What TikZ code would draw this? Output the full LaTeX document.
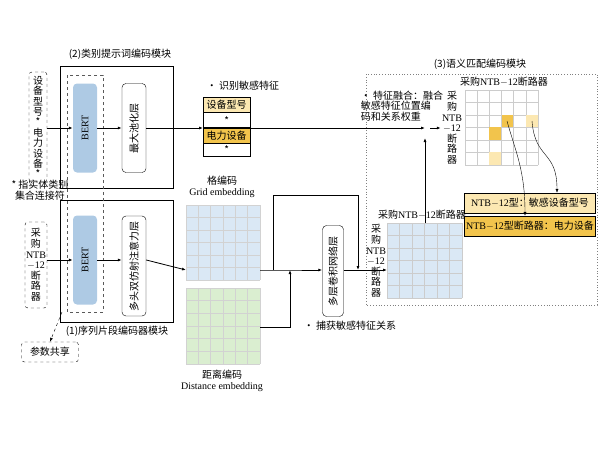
\documentclass[tikz,border=0pt]{standalone}
\usepackage{fontspec}
\setmainfont{Noto Sans CJK SC}
\newfontfamily\lat{Liberation Serif}
\usetikzlibrary{positioning,arrows.meta}
\definecolor{bertblue}{RGB}{174,202,228}
\definecolor{gridblue}{RGB}{218,232,245}
\definecolor{gridgreen}{RGB}{218,238,208}
\definecolor{lightyel}{RGB}{252,232,178}
\definecolor{darkyel}{RGB}{242,196,76}
\tikzset{
  txt/.style={font=\fontsize{10}{10.6}\selectfont, inner sep=1pt, align=center},
  layer/.style={draw, rounded corners=4pt, minimum width=24pt, txt},
  bert/.style={fill=bertblue, rounded corners=4pt, minimum width=24pt, minimum height=89pt, txt},
  dashbox/.style={draw, dashed, rounded corners=3pt, txt},
  cell/.style={draw, minimum width=47pt, minimum height=15pt, txt, anchor=north west},
  arr/.style={-{Latex[length=4pt]}, thick}
}
\newcommand{\gridcells}[6]{% x0 y0 x1 y1 fill line
  \fill[#5] (#1,#2) rectangle (#3,#4);
  \foreach \i in {0,...,6} {
    \draw[#6] ({#1+\i*(#3-#1)/6},#2) -- ({#1+\i*(#3-#1)/6},#4);
    \draw[#6] (#1,{#2+\i*(#4-#2)/6}) -- (#3,{#2+\i*(#4-#2)/6});
  }
}
\begin{document}
\begin{tikzpicture}[x=1pt,y=-1pt, txt]
\useasboundingbox (0,0) rectangle (600,450);
% modules (1) and (2)
\node (m2t) at (120,54) {(2)类别提示词编码模块};
\draw (60,66) rectangle (173,188);
\draw (60,200) rectangle (173,322);
\node (m1t) at (117,331) {(1)序列片段编码器模块};
\draw[dashed, gray!70!black] (67,75) rectangle (103,312);
\node (bert1)[bert] at (85,128) {\rotatebox{90}{\lat BERT}};
\node (bert2)[bert] at (85,260) {\rotatebox{90}{\lat BERT}};
\node (pool)[layer, minimum height=89pt] at (134,128) {\rotatebox{90}{最大池化层}};
\node (att)[layer, minimum height=100pt] at (134,266) {\rotatebox{90}{多头双仿射注意力层}};
\node (in1)[dashbox, minimum width=18pt, minimum height=110pt, font=\fontsize{10}{10.4}\selectfont] at (38,127)
  {设\\备\\型\\号\\*\\电\\力\\设\\备\\*};
\node (in2)[dashbox, minimum width=22pt, minimum height=86pt] at (36,265)
  {采\\购\\{\lat NTB}\\{\lat $-$12}\\断\\路\\器};
\node (note) at (40,190) {* 指实体类别\\集合连接符};
\node (share)[dashbox, minimum width=57pt, minimum height=20pt] at (50,352) {参数共享};
\coordinate (sh) at (62,312);
\draw[-{Latex[length=4pt]}, dashed] (sh) -- (share.north);
% table of sensitive features
\node (feat) at (243,86) {• 识别敏感特征};
\node (t1)[cell, fill=lightyel] at (203,97) {设备型号};
\node (t2)[cell, anchor=north west] at (t1.south west) {*};
\node (t3)[cell, fill=darkyel] at (t2.south west) {电力设备};
\node (t4)[cell, minimum height=13pt] at (t3.south west) {*};
% grids
\node (gridt) at (222,187) {格编码\\{\lat Grid embedding}};
\gridcells{186}{205}{260}{280}{gridblue}{gray!35}
\coordinate (grid) at (260,260);
\node (distt) at (222,381) {距离编码\\{\lat Distance embedding}};
\gridcells{186}{288}{260}{364}{gridgreen}{gray!35}
\coordinate (dist) at (260,327);
\node (conv)[layer, minimum width=21pt, minimum height=91pt] at (333,271) {\rotatebox{90}{多层卷积网络层}};
\node (capt) at (350,326) {• 捕获敏感特征关系};
% module (3)
\draw[dotted, thick, gray] (366,74) rectangle (597,305);
\node (m3t) at (480,64) {(3)语义匹配编码模块};
\node (fuse)[align=left] at (402,106) {• 特征融合：融合\\敏感特征位置编\\码和关系权重};
\coordinate (fz) at (425,128);
\node (topt) at (504,82) {采购{\lat NTB$-$12}断路器};
\gridcells{465}{90}{538}{165}{white}{gray!40}
\fill[darkyel] (502,115) rectangle (513,127);
\fill[lightyel] (526,115) rectangle (538,127);
\fill[darkyel] (489,127) rectangle (501,140);
\fill[lightyel] (489,152) rectangle (501,165);
\node (rowt) at (452,128) {采\\购\\{\lat NTB}\\{\lat $-$12}\\断\\路\\器};
\node (bott) at (422,215) {采购{\lat NTB$-$12}断路器};
\gridcells{387}{223}{462}{298}{gridblue}{gray!40}
\node (rowb) at (376,261) {采\\购\\{\lat NTB}\\{\lat $-$12}\\断\\路\\器};
\coordinate (mb) at (387,260);
\node (r1)[draw, fill=lightyel, minimum width=131pt, minimum height=20pt] at (530,203) {{\lat NTB$-$12}型：敏感设备型号};
\node (r2)[draw, fill=darkyel, minimum width=131pt, minimum height=20pt] at (530,226) {{\lat NTB$-$12}型断路器：电力设备};
% connectors
\draw[arr] (in1.east |- bert1) -- (bert1);
\draw[arr] (bert1) -- (pool);
\draw[arr] (pool) -- (t2.west |- pool);
\draw[arr] (t3.east |- pool) -- (fz);
\draw[arr] (430,128) -- (rowt.west |- fz);
\draw[arr] (in2.east |- bert2) -- (bert2);
\draw[arr] (bert2) -- (att.west |- bert2);
\draw[arr] (att.east |- bert2) -- (186,270);
\draw[arr] (260,270) -- (285,270) -- (conv.west |- 0,270);
\draw[thick] (273,270) |- (358,195);
\draw[arr] (358,195) -- (358,270);
\draw[arr] (dist) -| (290,270);
\draw[arr] (conv.east |- 0,270) -- (mb |- 0,270);
\draw[arr] (425,223) -- (425,138);
\draw[-{Latex[length=4pt]}] (507,121) .. controls (515,150) and (525,170) .. (r2.north -| 525,0);
\draw[-{Latex[length=4pt]}] (532,121) .. controls (535,160) and (557,150) .. (r1.north -| 557,0);
\end{tikzpicture}
\end{document}
